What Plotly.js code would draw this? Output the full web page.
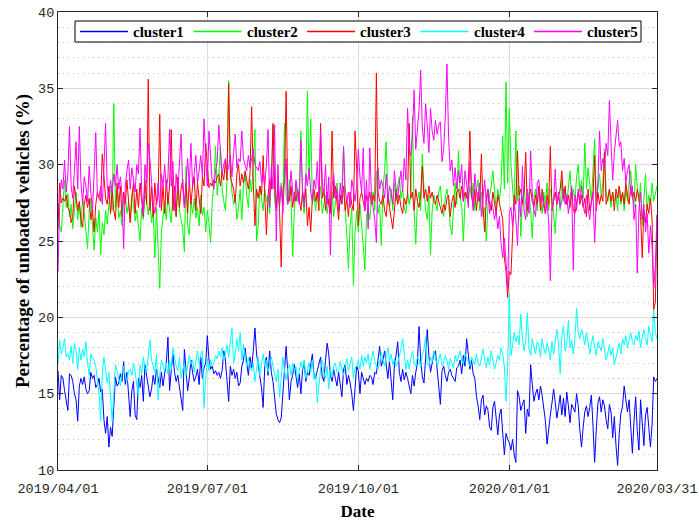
<!DOCTYPE html>
<html><head><meta charset="utf-8">
<script src="https://cdn.plot.ly/plotly-3.0.1.min.js"></script>
<style>html,body{margin:0;padding:0;background:#fff}#chart{width:699px;height:522px}</style>
</head><body><div id="chart"></div>
<script>
const startDate = '2019-04-01';
const endDate = '2020-03-31';
const seriesNames = ['cluster1','cluster2','cluster3','cluster4','cluster5'];
const tickDates = ['2019-04-01','2019-07-01','2019-10-01','2020-01-01','2020-03-31'];
const tickLabels = ['2019/04/01','2019/07/01','2019/10/01','2020/01/01','2020/03/31'];

const cluster1 = [
16.5,14.6,16.2,16.0,15.2,14.5,13.9,16.3,16.2,15.8,15.0,14.6,13.2,15.5,16.0,15.6,16.1,15.3,15.0,15.2,16.4,16.0,16.2,15.4,15.6,16.0,15.1,15.3,13.3,12.4,
13.5,11.5,12.8,12.2,14.0,16.1,15.5,15.7,16.3,15.8,17.1,15.6,16.4,15.0,13.5,15.2,15.8,13.6,13.3,16.0,15.4,16.2,14.5,16.9,16.2,15.8,14.8,15.3,16.2,15.6,16.6,
16.0,15.4,16.4,15.5,16.3,17.0,18.7,15.2,16.5,17.6,16.4,15.8,16.2,15.5,14.6,13.9,17.9,16.5,15.2,16.0,17.2,16.4,15.8,16.1,16.6,15.6,17.4,16.0,16.7,17.0,
18.8,17.2,16.6,16.8,16.3,16.5,16.2,16.4,16.0,16.5,17.8,17.2,15.6,14.5,16.8,16.2,16.6,16.0,16.4,15.5,15.7,16.8,17.2,18.0,17.0,16.2,17.4,16.7,17.8,19.3,17.6,
16.8,16.0,15.4,14.1,16.8,17.4,16.2,17.8,16.4,15.8,14.8,13.7,13.3,13.1,13.4,15.0,16.6,18.1,16.4,14.6,15.8,16.2,16.9,16.0,15.4,16.3,15.0,16.5,17.1,15.8,16.4,
16.2,17.0,17.6,16.2,16.0,16.5,17.0,17.4,16.1,15.8,17.2,18.3,17.6,16.2,15.8,16.6,16.0,15.5,16.4,15.4,14.8,16.6,16.9,15.6,16.2,15.7,15.0,13.9,15.2,16.8,
16.5,15.0,16.4,15.9,15.6,16.0,15.8,16.2,16.1,15.6,16.4,16.3,17.2,18.1,16.8,17.2,17.8,16.9,16.0,17.1,15.8,14.6,16.9,17.5,18.4,16.4,15.8,16.6,15.9,16.4,16.0,
15.4,15.0,16.2,15.5,16.4,17.0,19.4,17.2,16.1,15.7,17.3,19.2,17.5,16.4,17.0,17.6,17.8,16.6,15.9,14.3,16.5,16.8,16.2,15.8,16.4,16.6,16.2,16.0,15.8,16.7,
16.8,17.2,16.3,17.5,16.8,18.6,17.4,16.6,17.2,16.3,16.0,14.8,14.2,13.3,14.6,14.9,13.6,14.2,13.9,12.8,12.6,14.1,14.5,13.2,12.3,13.6,14.0,12.4,11.0,12.4,12.0,
11.8,11.3,12.0,11.0,10.5,15.2,14.8,13.9,14.3,14.6,12.4,14.0,13.5,16.9,15.6,14.5,15.0,15.3,14.6,15.5,14.9,14.2,13.2,11.7,12.9,13.6,14.4,15.3,14.4,13.4,14.1,
14.9,13.6,14.7,13.5,15.1,14.2,13.1,14.3,14.0,13.8,15.0,14.2,12.6,11.5,12.8,13.8,14.2,13.5,14.1,14.9,12.9,10.5,12.6,14.4,14.8,13.8,14.6,14.2,13.3,
12.7,14.3,13.8,12.1,13.5,11.6,10.3,12.4,13.7,14.2,15.5,14.6,13.8,14.6,12.9,11.1,13.2,14.8,12.5,11.3,14.6,13.0,11.6,13.6,14.1,12.8,11.5,13.0,16.1,15.8,16.0
];
const cluster2 = [
27.5,26.0,25.6,27.8,29.0,27.2,28.1,26.6,27.4,25.8,27.0,28.2,26.4,27.5,25.9,27.8,26.8,25.4,24.5,26.9,27.8,26.0,24.4,26.5,25.6,27.0,24.1,26.2,25.4,27.0,
26.1,27.4,28.6,27.0,34.0,27.2,28.4,26.5,27.0,26.0,27.6,28.0,26.8,27.5,26.4,28.1,27.4,26.3,27.0,26.0,25.0,27.2,26.4,28.0,27.6,26.7,27.8,26.2,27.0,23.9,27.2,
24.5,21.9,25.6,26.8,27.6,26.4,28.2,27.0,26.2,28.0,27.3,26.6,28.4,27.0,26.4,25.8,24.3,29.9,26.0,25.4,27.6,26.8,27.8,26.5,27.2,26.0,28.0,26.7,27.2,25.6,
27.0,26.2,24.9,27.6,28.8,31.2,28.0,29.2,31.2,28.4,27.6,27.0,29.0,35.5,30.0,28.2,27.4,28.0,26.4,27.2,28.4,26.4,28.6,29.4,28.0,27.2,29.0,28.2,30.0,32.3,25.0,
26.0,28.6,27.8,27.0,28.4,27.6,28.0,26.8,29.2,32.5,27.6,27.0,28.4,27.2,28.8,27.4,32.7,28.0,27.4,29.0,27.6,24.0,27.0,28.8,27.6,28.4,32.2,27.8,26.8,28.4,34.8,
29.0,33.0,27.4,28.0,27.0,28.2,27.6,28.6,26.8,27.4,28.0,26.8,27.8,27.2,28.2,26.6,27.4,28.8,26.9,27.6,28.4,31.1,27.0,25.4,23.2,26.0,27.2,22.1,25.6,27.0,
25.6,27.4,26.2,24.7,23.1,26.6,27.2,26.4,27.8,28.2,27.0,29.6,26.8,27.4,24.7,28.4,29.6,31.5,28.0,27.2,28.4,27.0,28.8,27.6,28.6,29.2,27.8,28.4,27.2,26.8,28.2,
27.4,28.0,33.2,27.0,24.8,27.6,28.2,27.0,30.7,28.4,27.0,26.4,28.0,24.1,27.0,28.0,27.4,27.0,28.2,28.6,27.2,26.6,27.8,28.4,27.6,26.0,25.4,27.2,28.8,27.4,
30.9,28.0,27.2,25.0,27.6,28.2,27.4,28.6,27.8,28.8,27.0,28.4,29.0,27.0,28.2,26.6,27.2,25.0,27.4,28.0,28.6,29.6,28.0,27.0,28.4,27.6,28.8,31.9,28.4,35.4,28.8,
33.7,30.0,28.4,27.0,32.2,27.6,28.6,25.3,27.8,28.6,27.4,26.6,28.2,27.0,25.2,27.8,28.4,27.0,28.6,27.8,26.8,28.2,27.4,28.8,27.0,28.4,27.8,26.8,25.5,27.6,28.0,
27.0,29.0,27.6,28.4,27.4,28.6,29.6,27.8,28.4,27.6,29.2,30.0,28.2,29.0,27.8,31.4,28.4,29.8,28.6,27.6,29.6,31.7,27.8,28.4,29.4,28.0,28.8,31.0,28.2,
27.6,28.4,27.2,28.2,27.6,28.0,27.0,28.6,27.4,28.2,27.0,28.4,27.6,28.8,29.6,28.0,27.2,30.0,28.4,27.6,28.8,26.0,27.4,29.4,27.0,28.0,27.4,28.8,27.6,28.2,28.6
];
const cluster3 = [
25.8,28.8,27.5,27.8,27.6,28.0,27.2,27.0,26.2,26.6,28.6,27.8,27.0,27.6,26.4,25.9,27.4,28.0,27.2,27.8,26.4,27.0,25.6,27.4,28.2,27.8,27.6,30.7,29.2,27.8,
27.4,28.6,26.8,28.4,27.0,26.4,28.8,27.2,28.6,26.6,28.2,27.4,29.0,27.8,26.2,27.8,28.8,26.8,28.4,27.2,28.8,27.6,26.6,29.0,27.4,35.6,27.0,28.6,26.6,28.8,27.4,
28.0,33.3,27.0,28.6,26.8,29.0,27.4,28.6,32.3,27.0,28.6,26.6,29.2,27.2,28.4,29.0,27.2,28.8,26.8,29.0,27.4,28.6,29.2,27.0,28.8,27.6,26.8,29.2,28.6,31.4,
29.6,28.5,28.8,28.6,29.0,28.8,29.2,29.4,28.6,29.5,29.0,30.2,29.0,35.3,29.2,28.8,28.4,27.5,29.4,30.0,28.6,29.4,28.8,29.6,29.0,28.4,29.4,33.8,28.8,26.0,28.4,
27.8,28.6,28.0,30.6,27.6,25.4,28.0,29.0,28.4,32.7,28.6,27.2,28.8,27.0,23.3,28.2,29.0,34.8,28.0,27.6,28.6,27.2,28.2,27.6,28.4,27.8,27.0,28.2,27.6,28.4,26.0,
27.2,25.6,27.8,28.4,27.6,28.2,27.0,32.7,27.8,28.4,27.0,28.2,27.4,26.8,32.2,27.8,28.6,27.2,26.4,28.0,27.4,28.6,27.0,27.8,26.6,28.2,27.4,27.0,32.2,29.7,
26.0,27.8,28.2,27.6,27.0,28.0,27.6,28.2,27.4,28.0,27.6,36.0,28.2,27.6,27.4,28.0,27.0,26.6,28.0,27.2,26.6,25.8,27.0,28.4,27.4,28.0,27.2,26.8,27.8,27.4,28.0,
32.7,27.8,28.2,27.0,28.4,27.6,27.2,28.0,29.9,27.8,28.4,27.6,28.6,27.8,28.2,27.6,27.4,28.0,27.6,27.2,26.8,27.4,27.0,27.8,28.0,26.6,27.6,28.0,27.2,28.2,
28.4,27.8,28.6,27.6,28.2,27.8,28.6,32.2,28.0,27.2,28.4,27.0,28.2,27.6,30.7,27.2,25.6,27.8,28.4,27.4,27.0,28.2,27.6,26.8,28.0,27.4,27.0,26.4,23.9,23.0,21.3,
23.0,22.8,25.0,28.0,27.4,30.9,28.0,28.4,27.4,28.2,30.8,27.0,27.8,28.4,27.6,27.2,28.0,27.4,28.6,27.0,28.4,27.6,26.8,28.0,27.4,31.2,27.0,27.6,28.2,27.4,28.0,
28.4,29.6,27.8,28.6,27.4,28.0,27.2,28.4,27.0,26.8,27.6,28.2,27.4,28.0,27.2,27.8,26.6,28.4,27.0,27.6,28.0,30.6,27.0,28.2,27.4,28.0,27.6,30.8,27.4,
27.8,28.4,27.6,28.2,27.0,28.4,27.8,28.6,27.6,28.2,27.4,28.8,28.0,27.4,28.6,27.8,28.2,27.6,28.4,27.8,26.6,23.9,27.0,26.2,27.4,26.8,27.8,26.4,20.5,21.0,26.7
];
const cluster4 = [
17.0,18.5,17.6,18.0,18.6,17.4,17.6,17.2,18.1,17.0,18.3,17.8,16.6,18.0,17.2,17.9,17.4,18.4,17.0,16.2,17.6,17.3,17.2,16.8,15.9,15.0,13.2,16.3,17.4,16.5,
15.7,16.4,14.8,13.2,15.0,16.9,16.5,16.0,15.5,16.4,16.8,16.2,15.8,16.5,16.6,16.2,17.0,16.4,15.6,14.8,16.9,16.3,17.4,16.7,16.4,17.3,18.5,17.2,16.7,16.4,17.6,
14.6,16.2,17.2,16.8,16.5,17.0,16.3,17.2,16.6,18.0,17.3,16.8,16.5,17.4,16.0,16.6,17.0,16.2,16.8,17.5,16.9,17.2,16.4,17.0,17.8,16.9,17.6,17.8,14.1,16.0,
17.3,16.5,17.2,16.8,17.0,17.5,17.3,17.8,17.4,18.0,17.2,17.6,18.2,17.4,18.5,19.3,17.0,17.6,18.6,17.8,19.0,17.2,18.2,17.5,16.8,17.3,16.9,16.5,17.0,15.8,16.6,
17.4,16.2,17.0,17.6,16.8,17.2,16.4,17.0,17.4,16.8,16.2,15.8,16.6,14.8,16.0,17.4,16.5,15.9,16.6,16.9,16.2,17.0,16.5,16.8,15.8,16.4,17.1,16.6,17.2,16.0,16.5,
17.0,16.4,17.2,15.9,16.3,14.4,15.6,16.6,17.2,16.4,16.0,16.8,15.3,16.6,16.1,16.8,17.0,16.4,16.5,17.1,16.6,16.2,16.8,17.3,16.5,16.9,17.4,16.0,16.7,16.8,
17.2,16.6,17.5,16.8,17.4,17.0,17.6,16.6,17.3,17.8,17.1,16.9,16.6,17.0,17.7,17.2,16.8,17.5,18.0,17.1,17.6,16.9,17.3,16.8,17.0,17.5,17.9,18.6,17.4,16.6,17.2,
16.6,17.3,17.8,17.0,16.8,17.4,17.2,16.7,17.6,17.9,18.7,17.0,16.8,17.4,17.1,17.8,17.3,16.9,17.2,17.6,16.8,17.0,17.5,17.2,16.6,17.3,17.0,16.7,17.5,17.1,
17.4,17.8,17.2,16.9,17.6,17.3,17.0,16.8,17.4,17.1,16.9,17.6,17.0,16.8,17.3,17.9,17.2,16.7,17.4,16.9,17.8,17.2,16.6,17.0,17.5,17.2,18.0,17.6,16.8,14.5,16.8,
21.5,17.5,18.2,19.0,18.4,18.8,18.2,20.2,18.6,17.8,18.4,20.3,18.0,17.5,18.6,18.0,17.6,18.4,18.2,17.4,18.6,18.0,17.6,18.3,17.9,17.2,18.4,17.6,18.5,19.2,18.3,
16.3,18.8,19.4,17.8,18.2,19.8,18.0,18.5,17.6,18.6,20.6,19.0,18.6,19.2,18.8,18.2,19.0,18.4,17.6,18.3,18.8,18.0,17.5,18.4,18.1,17.8,18.6,17.9,17.2,
17.6,18.2,17.5,18.0,16.9,17.4,18.0,18.3,17.6,18.6,18.2,18.8,18.0,18.5,19.0,18.4,18.2,18.8,18.5,19.1,18.0,18.7,19.2,18.6,18.2,19.4,18.8,18.4,20.5,19.0,18.6
];
const cluster5 = [
23.0,27.2,29.0,28.4,30.3,28.2,29.4,32.5,28.6,27.8,29.6,31.5,28.4,32.5,28.8,27.4,29.2,28.6,27.6,29.9,28.2,27.0,29.4,32.1,28.0,27.8,28.6,27.4,29.8,32.7,
28.6,27.8,29.0,28.2,29.4,28.6,30.0,28.4,29.2,28.0,24.5,28.6,29.6,30.3,28.4,29.8,29.0,28.2,30.0,29.4,32.4,28.2,26.7,30.0,28.8,31.4,30.4,28.6,27.4,26.8,27.6,
28.8,27.2,29.4,28.6,30.0,28.4,29.2,32.3,28.6,30.2,27.0,29.4,28.2,30.0,32.0,28.6,27.2,28.8,30.4,28.6,31.4,28.6,29.4,30.6,28.8,29.6,30.6,29.2,33.0,30.4,
28.6,32.2,30.0,28.8,28.4,29.6,30.2,32.6,30.8,29.4,30.0,30.4,29.6,29.8,30.6,29.2,30.8,32.0,29.8,30.4,30.2,32.2,30.4,30.0,29.6,30.6,29.8,30.4,31.0,30.0,29.8,
29.6,30.2,28.8,29.4,28.6,30.0,32.3,27.2,29.8,28.4,32.6,25.0,30.0,27.4,28.6,26.8,29.2,30.4,27.4,28.0,29.6,28.2,27.6,29.0,28.0,27.4,31.6,28.4,27.2,29.4,28.6,
29.8,28.2,27.6,29.0,28.4,30.2,27.8,32.2,29.0,28.0,30.0,27.4,29.2,24.1,28.6,29.4,27.8,28.4,27.0,28.8,27.6,31.2,28.4,27.6,28.2,27.2,29.0,28.4,27.6,28.6,
31.0,29.2,28.2,31.1,27.0,29.0,25.8,31.1,28.0,27.2,26.4,24.9,29.8,28.4,29.0,28.6,27.8,29.4,27.6,28.6,28.2,27.4,29.6,28.4,27.8,28.8,29.6,28.2,30.4,29.0,33.7,
31.0,30.6,32.0,34.9,31.0,32.4,33.6,36.2,32.4,31.4,34.0,32.6,30.8,33.7,32.2,31.6,32.9,32.0,32.6,32.8,30.2,31.0,33.2,36.6,31.8,29.6,30.3,28.6,29.8,28.4,
29.6,28.8,30.0,27.6,29.6,28.8,27.2,30.2,28.6,27.0,29.4,28.2,27.6,28.8,26.6,28.0,29.0,27.4,28.4,26.8,27.6,27.2,26.4,27.0,25.8,26.6,24.8,23.9,25.2,23.6,21.9,
26.8,27.2,26.0,27.6,26.4,24.7,27.8,26.6,29.9,27.0,26.4,28.4,26.8,30.9,28.2,27.0,26.6,28.8,29.0,27.6,28.0,27.2,26.8,27.6,26.2,22.4,27.0,27.6,29.7,27.4,28.2,
27.2,27.6,28.4,27.4,28.0,26.8,27.8,28.6,23.1,28.0,27.0,28.4,27.6,28.6,27.4,26.8,28.0,27.2,26.4,27.6,28.2,24.9,27.6,28.8,32.2,29.6,30.4,29.8,31.4,
30.6,34.2,31.4,29.0,30.8,32.0,32.9,31.2,31.5,29.6,30.4,28.8,29.6,30.0,28.0,28.6,26.4,27.4,22.9,27.0,28.2,26.4,27.4,25.6,26.8,24.2,26.0,24.6,21.9,23.4,26.7
];
const seriesValues = [cluster1, cluster2, cluster3, cluster4, cluster5];
const seriesColors = ['#0000ff','#00ff00','#ff0000','#00ffff','#ff00ff'];

function dateAt(i){
  const t = Date.UTC(2019,3,1) + i*86400000;
  return new Date(t).toISOString().slice(0,10);
}
const traces = seriesValues.map((vals, k) => ({
  type: 'scatter', mode: 'lines', name: seriesNames[k],
  x: vals.map((v,i) => dateAt(i)), y: vals,
  line: {color: seriesColors[k], width: 1},
  showlegend: false
}));

// legend box drawn in paper coordinates (plot area 599 x 458 px)
const plotW = 599, plotH = 458;
const px = v => v / plotW;
const py = v => 1 - v / plotH;
const legShapes = [{
  type: 'rect', xref: 'paper', yref: 'paper', layer: 'above',
  x0: px(17), x1: px(583), y0: py(30), y1: py(9),
  line: {color: '#000', width: 1}, fillcolor: '#fff'
}];
const legAnn = [];
seriesNames.forEach((nm, k) => {
  const left = 22 + k * 113.5;
  legShapes.push({type: 'line', xref: 'paper', yref: 'paper', layer: 'above',
    x0: px(left), x1: px(left + 48), y0: py(19.5), y1: py(19.5),
    line: {color: seriesColors[k], width: 1.3}});
  legAnn.push({xref: 'paper', yref: 'paper', x: px(left + 51), y: py(19.5),
    xanchor: 'left', yanchor: 'middle', showarrow: false, text: nm,
    font: {family: 'Liberation Serif, serif', size: 15, color: '#000', weight: 'bold'}});
});

const axisCommon = {
  showline: true, linecolor: '#262626', linewidth: 1, mirror: 'ticks',
  ticks: 'inside', ticklen: 5, tickcolor: '#262626',
  gridcolor: '#dcdcdc', gridwidth: 1, zeroline: false,
  tickfont: {family: 'Liberation Mono, DejaVu Sans Mono, monospace', size: 13.5, color: '#262626'}
};
const layout = {
  width: 699, height: 522,
  margin: {l: 58, r: 42, t: 12, b: 52},
  paper_bgcolor: '#fff', plot_bgcolor: '#fff',
  showlegend: false,
  shapes: legShapes,
  annotations: legAnn,
  xaxis: Object.assign({}, axisCommon, {
    type: 'date', range: [startDate, endDate],
    tickmode: 'array', tickvals: tickDates, ticktext: tickLabels,
    ticklabelstandoff: 6,
    title: {text: 'Date', font: {family: 'Liberation Serif, serif', size: 17, color: '#000', weight: 'bold'}, standoff: 8}
  }),
  yaxis: Object.assign({}, axisCommon, {
    range: [10, 40], dtick: 5, tick0: 10,
    minor: {dtick: 1, showgrid: true, griddash: '1px,4px', gridcolor: '#c2c2c2', gridwidth: 1, ticks: ''},
    title: {text: 'Percentage of unloaded vehicles (%)', font: {family: 'Liberation Serif, serif', size: 19, color: '#000', weight: 'bold'}, standoff: 3}
  })
};
Plotly.newPlot('chart', traces, layout, {displayModeBar: false, staticPlot: true});
</script></body></html>
